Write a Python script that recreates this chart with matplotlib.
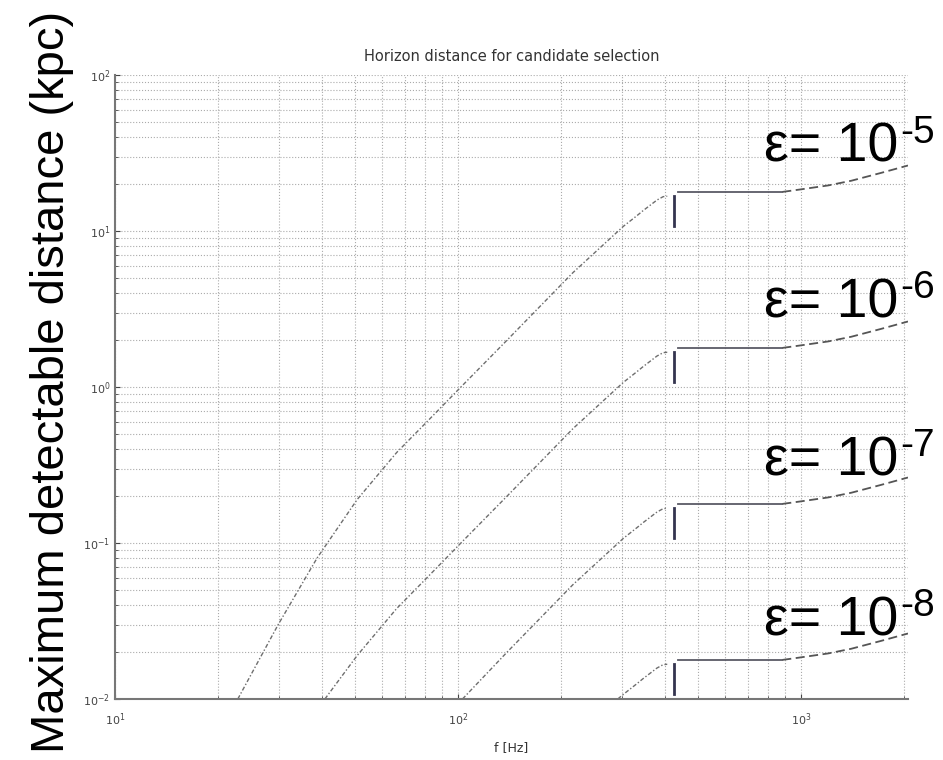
import matplotlib
matplotlib.use("Agg")
import matplotlib.pyplot as plt

# frequencies (Hz) and distances (kpc)
# rising part of each curve
f_rise_5 = [22.8, 29.9, 38.8, 50.8, 66.2, 80, 101, 139, 216, 303, 333, 346, 380, 396, 407]
d_rise_5 = [0.010, 0.030, 0.080, 0.19, 0.38, 0.58, 0.98, 2.0, 5.4, 10.7, 12.6, 13.5, 15.8, 16.6, 16.7]

f_rise_6 = [40.9, 50.8, 66.2, 80, 101, 139, 216, 303, 333, 346, 380, 396, 407]
d_rise_6 = [0.010, 0.019, 0.038, 0.058, 0.098, 0.20, 0.54, 1.07, 1.26, 1.35, 1.58, 1.66, 1.67]

f_rise_7 = [103, 139, 216, 303, 333, 346, 380, 396, 407]
d_rise_7 = [0.010, 0.020, 0.054, 0.107, 0.126, 0.135, 0.158, 0.166, 0.167]

f_rise_8 = [292, 303, 333, 346, 380, 396, 407]
d_rise_8 = [0.010, 0.0107, 0.0126, 0.0135, 0.0158, 0.0166, 0.0167]

# glitch / plateau / high-frequency tail
f_drop = [427, 427]
d_drop_5 = [16.7, 10.7]
d_drop_6 = [1.67, 1.07]
d_drop_7 = [0.167, 0.107]
d_drop_8 = [0.0167, 0.0107]

f_flat = [437, 881]
d_flat_5 = [17.7, 17.7]
d_flat_6 = [1.77, 1.77]
d_flat_7 = [0.177, 0.177]
d_flat_8 = [0.0177, 0.0177]

f_tail = [881, 1000, 1200, 1400, 1700, 2048]
d_tail_5 = [17.8, 18.5, 19.6, 21.0, 23.5, 26.3]
d_tail_6 = [1.78, 1.85, 1.96, 2.10, 2.35, 2.63]
d_tail_7 = [0.178, 0.185, 0.196, 0.210, 0.235, 0.263]
d_tail_8 = [0.0178, 0.0185, 0.0196, 0.0210, 0.0235, 0.0263]

eps_labels = ['-5', '-6', '-7', '-8']

curves = [
    (f_rise_5, d_rise_5, d_drop_5, d_flat_5, d_tail_5),
    (f_rise_6, d_rise_6, d_drop_6, d_flat_6, d_tail_6),
    (f_rise_7, d_rise_7, d_drop_7, d_flat_7, d_tail_7),
    (f_rise_8, d_rise_8, d_drop_8, d_flat_8, d_tail_8),
]

fig = plt.figure(figsize=(9.43, 7.6), dpi=100)
ax = fig.add_axes([115 / 943, 1 - 699 / 760, (908 - 115) / 943, (699 - 75) / 760])

for f_r, d_r, d_dr, d_fl, d_tl in curves:
    ax.plot(f_r, d_r, color='#6e6e6e', lw=1.0, linestyle=(0, (3, 1.5, 1, 1.5)))
    ax.plot(f_drop, d_dr, color='#34344f', lw=2.0)
    ax.plot(f_flat, d_fl, color='#5a5a66', lw=1.3)
    ax.plot(f_tail, d_tl, color='#555555', lw=1.3, linestyle=(0, (5, 2.5)))

ax.set_xscale('log')
ax.set_yscale('log')
ax.set_xlim(10, 2048)
ax.set_ylim(1e-2, 1e2)

ax.grid(True, which='both', linestyle=':', color='#ababab', lw=0.8)
ax.tick_params(which='both', direction='in', labelsize=8, colors='#444444')
ax.tick_params(axis='x', pad=9)
for side in ['top', 'right']:
    ax.spines[side].set_visible(False)
for side in ['left', 'bottom']:
    ax.spines[side].set_color('#777777')
    ax.spines[side].set_linewidth(1.5)

ax.set_title('Horizon distance for candidate selection', fontsize=10.5,
             color='#333333', pad=10)
ax.set_xlabel('f [Hz]', fontsize=9, color='#333333', labelpad=9)

# big y label
fig.text(64 / 943, 1 - 382 / 760, 'Maximum detectable distance (kpc)',
         rotation=90, rotation_mode='anchor', ha='center', va='baseline',
         fontsize=34, family='Liberation Sans')

# epsilon labels
base_y = [162, 317, 475, 635]
for lab, by in zip(eps_labels, base_y):
    fig.text(898 / 943, 1 - by / 760, '\u03b5= 10', ha='right', va='baseline',
             fontsize=40, family='Liberation Sans')
    fig.text(900 / 943, 1 - (by - 19) / 760, lab, ha='left', va='baseline',
             fontsize=28, family='Liberation Sans')

fig.savefig('out.png', dpi=100)
